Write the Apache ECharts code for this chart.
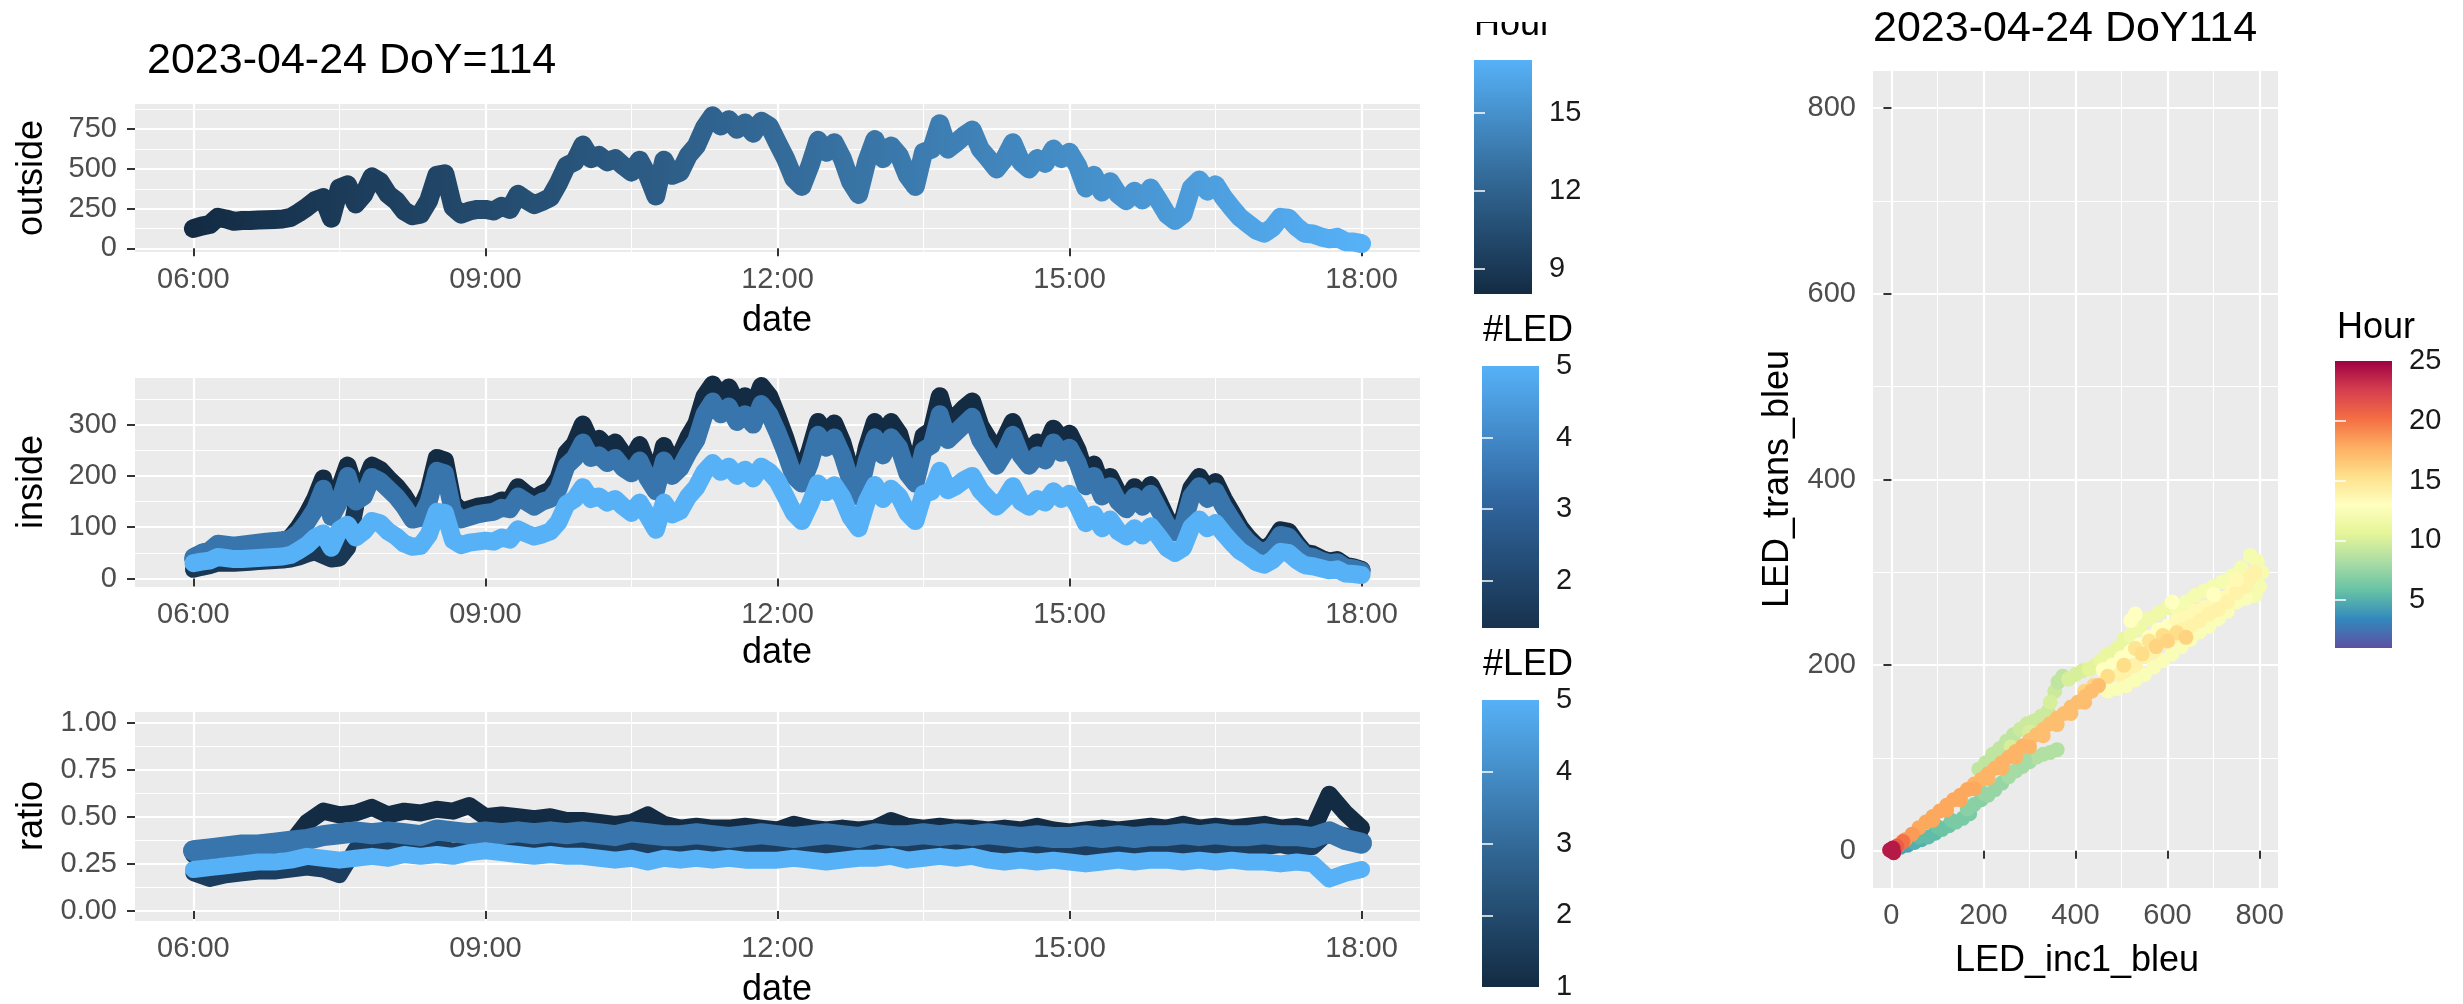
<!DOCTYPE html>
<html><head><meta charset="utf-8">
<script src="https://cdn.jsdelivr.net/npm/echarts@6/dist/echarts.min.js"></script>
<style>html,body{margin:0;padding:0;background:#fff}#c{width:2463px;height:1004px}</style>
</head><body><div id="c"></div>
<script>
// ---------- DATA ----------
// 5-minute samples, 06:00 .. 18:00 (145 values)
const outsideVals = [
 125,140,150,195,185,170,175,175,178,180,182,185,
 195,225,260,300,320,190,380,400,280,340,450,420,
 340,300,235,205,215,300,460,470,260,215,235,245,
 245,235,265,245,340,305,275,295,320,410,520,545,
 650,565,585,545,565,520,480,555,460,330,555,460,
 480,585,645,760,835,770,810,750,790,725,800,770,
 665,565,440,390,520,680,605,665,565,420,340,545,
 685,565,645,585,460,390,605,625,785,625,665,710,
 745,625,565,500,565,665,545,500,565,535,625,565,
 605,520,380,460,355,420,340,300,360,305,380,300,
 215,175,215,380,430,360,400,320,255,195,155,115,
 95,130,195,190,135,95,90,72,60,70,42,40,
 30];
// inside, LED 1 (only 06:00 .. 07:40 visible)
const insideLED1 = [18,22,25,30,30,30,31,32,33,34,35,36, 38,42,48,52,45,38,40,60,140];
const insideLED2 = [
 38,46,52,64,62,60,62,64,66,68,70,72,
 80,100,125,155,195,135,175,220,170,180,220,212,
 195,180,160,135,135,170,235,230,148,130,135,140,
 142,145,152,150,178,165,155,165,172,195,245,262,
 300,265,272,255,265,242,230,260,218,190,258,225,
 240,275,302,355,378,355,372,340,355,332,375,355,
 315,272,222,205,250,305,282,302,265,210,178,255,
 305,268,305,282,228,205,278,288,355,300,315,332,
 345,298,272,245,272,305,265,245,265,255,292,272,
 282,250,200,222,178,198,166,150,178,155,182,150,
 116,100,116,176,198,172,188,155,128,100,80,64,
 56,69,94,91,69,50,47,39,33,36,25,22,
 17];
const insideLED3 = [
 42,50,55,68,66,64,66,68,70,72,73,75,
 78,90,110,135,175,120,150,200,150,160,198,190,
 175,160,140,115,118,150,210,205,130,115,120,125,
 128,130,138,135,160,150,140,150,155,175,220,235,
 265,235,240,225,235,215,205,230,195,170,230,200,
 215,245,270,320,345,320,335,305,320,300,340,320,
 285,245,200,185,225,280,255,275,240,190,160,230,
 275,240,275,255,205,185,250,260,320,270,285,300,
 315,270,245,220,245,280,240,220,240,230,265,245,
 255,225,180,200,160,180,150,135,160,140,165,135,
 105,90,105,160,180,155,170,140,115,90,72,58,
 50,62,85,82,62,45,42,35,30,32,22,20,
 15];
const insideLED5 = [
 30,33,35,42,40,38,38,39,40,41,42,43,
 46,55,65,80,88,60,95,105,80,92,112,108,
 92,82,68,62,64,85,130,128,75,65,70,72,
 74,72,80,76,96,88,82,86,92,110,145,155,
 178,155,160,148,155,140,128,148,122,95,148,125,
 132,160,178,208,225,208,218,200,212,195,218,208,
 190,160,128,112,145,185,168,182,158,120,98,150,
 182,155,175,160,128,112,165,170,210,172,180,192,
 200,172,155,140,155,180,150,140,155,148,170,155,
 165,142,108,125,98,115,92,82,98,84,102,82,
 60,50,60,100,115,98,108,88,70,54,44,32,
 27,36,52,50,36,26,24,20,16,18,10,9,
 7];
// ratio, 10-minute samples 06:00 .. 18:00 (73 values)
const ratioLED1 = [
 0.20,0.17,0.19,0.20,0.21,0.21, 0.22,0.23,0.22,0.19,0.33,0.35,
 0.34,0.35,0.33,0.34,0.32,0.33, 0.32,0.34,0.33,0.35,0.34,0.35,
 0.36,0.34,0.35,0.34,0.33,0.35, 0.34,0.33,0.34,0.33,0.35,0.34,
 0.33,0.34,0.33,0.32,0.34,0.33, 0.34,0.35,0.33,0.34,0.33,0.34,
 0.35,0.33,0.34,0.33,0.34,0.32, 0.33,0.32,0.33,0.34,0.33,0.34,
 0.33,0.34,0.35,0.33,0.34,0.33, 0.34,0.35,0.33,0.34,0.42,0.40,
 0.38];
const ratioLED2 = [
 0.30,0.31,0.31,0.32,0.32,0.33, 0.36,0.47,0.53,0.51,0.52,0.55,
 0.51,0.53,0.52,0.54,0.53,0.56, 0.50,0.51,0.50,0.49,0.50,0.48,
 0.48,0.47,0.46,0.47,0.51,0.46, 0.44,0.45,0.44,0.44,0.45,0.44,
 0.43,0.46,0.44,0.43,0.44,0.43, 0.44,0.48,0.45,0.44,0.45,0.44,
 0.44,0.43,0.44,0.43,0.45,0.43, 0.42,0.43,0.44,0.43,0.44,0.45,
 0.44,0.46,0.44,0.45,0.44,0.45, 0.46,0.44,0.45,0.43,0.62,0.52,
 0.44];
const ratioLED3 = [
 0.32,0.33,0.34,0.35,0.35,0.36, 0.37,0.38,0.40,0.41,0.42,0.41,
 0.42,0.41,0.40,0.43,0.42,0.41, 0.42,0.41,0.42,0.41,0.42,0.41,
 0.42,0.41,0.40,0.42,0.41,0.40, 0.40,0.41,0.40,0.39,0.40,0.41,
 0.40,0.39,0.40,0.41,0.40,0.39, 0.41,0.40,0.40,0.41,0.40,0.41,
 0.40,0.41,0.40,0.39,0.40,0.39, 0.39,0.40,0.39,0.40,0.39,0.40,
 0.40,0.41,0.40,0.41,0.40,0.40, 0.41,0.40,0.40,0.39,0.42,0.38,
 0.36];
const ratioLED5 = [
 0.22,0.23,0.24,0.25,0.26,0.26, 0.27,0.29,0.28,0.27,0.28,0.29,
 0.28,0.30,0.29,0.30,0.29,0.31, 0.32,0.31,0.30,0.29,0.30,0.29,
 0.29,0.28,0.27,0.28,0.26,0.28, 0.27,0.28,0.27,0.28,0.27,0.27,
 0.27,0.28,0.27,0.26,0.27,0.28, 0.28,0.29,0.27,0.28,0.29,0.28,
 0.29,0.27,0.26,0.27,0.26,0.27, 0.26,0.25,0.26,0.27,0.26,0.27,
 0.27,0.26,0.27,0.26,0.27,0.26, 0.26,0.25,0.26,0.25,0.17,0.20,
 0.22];
// scatter points: [LED_inc1_bleu, LED_trans_bleu, Hour], in drawing order
const scatterEarly = [
 [20,4,4.5],[35,6,4.5],[50,9,5],[65,12,5],[80,15,5.5],[95,19,5.5],[110,23,6],[125,27,6],[140,31,6.5],[155,35,6.5],[170,40,6.5],[60,15,5.5],[100,26,6],[130,33,6.5],
 [165,45,7],[180,50,7],[195,55,7],[210,60,7.5],[225,66,7.5],[240,73,7.5],[255,80,8],[270,86,8],[285,91,8],[300,96,8],[315,101,8.5],[330,104,8.5],[345,106,8.5],[360,109,8.5],[200,62,7.5],[250,86,8],[290,98,8]
];
const scatterMorning = [
 [190,88,9],[205,95,9],[220,104,9],[235,110,9],[250,118,9],[265,125,9],[280,131,9.5],[295,137,9.5],[310,140,9.5],[325,145,9.5],[340,150,9.5],[355,172,9.5],[362,182,9],[372,188,9],[385,185,10],[400,190,10],[415,194,10],[430,196,10.5],[445,200,10.5],[345,160,10],[300,128,10],[260,112,10]
];
const scatterMidday = [
 [455,205,11],[470,212,11],[490,218,11],[505,228,11],[520,232,11.5],[540,240,11.5],[560,250,11.5],[580,256,11.5],[600,262,11.5],[620,262,12],[640,268,12],[660,275,12],[680,280,12],[700,285,12],[720,290,12],[740,296,12],[760,305,12],[780,318,12],[795,312,12],[805,300,12],[800,285,12],[790,275,12],[770,272,12.5],[750,268,12.5],[730,258,12.5],[710,250,12.5],[690,242,12.5],[670,236,12.5],[650,228,12.5],[630,220,12.5],[610,212,12.5],[590,205,12.5],[570,198,12.5],[550,190,12.5],[530,184,12.5],[510,178,12.5],[490,175,12.5],[470,172,12.5],
 [460,195,13],[480,200,13],[500,208,13],[520,215,13],[540,222,13],[560,230,13],[580,238,13],[600,242,13],[620,248,13.5],[640,252,13.5],[660,258,13.5],[680,262,13.5],[700,268,13.5],[720,272,13.5],[740,280,13.5],[760,285,14],[780,295,14],[790,300,14],[770,285,14],[750,278,14],[730,268,14],[710,260,14],[690,255,14],[670,248,14],[650,242,14],[630,238,14],[610,230,14],[590,225,14],[570,215,14],[550,210,14],[530,200,14],[510,195,14],[495,190,14],[520,248,13],[530,255,13],[610,268,13],[700,276,13],[750,292,13.5]
];
const scatterAfternoon = [
 [530,218,15],[560,226,15],[590,232,15.5],[620,235,15.5],[640,230,16],[575,220,16],[545,212,15.5],[505,200,15.5],[470,188,15.5],[440,178,16],[420,172,16],[600,226,16],
 [450,178,17],[435,172,17],[420,166,17],[405,160,17],[390,155,17],[375,148,17],[360,143,17],[345,137,17],[330,131,17],[315,125,17],[300,119,17],[285,113,17.5],[270,107,17.5],[255,101,17.5],[240,95,17.5],[225,89,17.5],[210,83,17.5],[195,77,17.5],[180,72,17.5],[165,66,18],[150,60,18],[135,55,18],[120,49,18],[105,43,18],[90,37,18],[75,31,18],[60,25,18],[45,18,18.5],[30,12,18.5],[15,6,19],
 [360,136,17],[330,124,17],[300,112,17.5],[270,101,17.5],[240,89,17.5],[210,78,17.5],[180,67,18],[150,55,18],[120,44,18],[90,33,18],[390,148,17],[420,160,17]
];
const scatterNight = [[25,10,20],[12,5,21],[6,2,22],[0,0,23.5],[5,-2,24],[-4,1,24],[3,3,24]];

// ticks / labels
const timeTicks = [6, 9, 12, 15, 18];
const timeMinor = [7.5, 10.5, 13.5, 16.5];
const outsideTicks = [0, 250, 500, 750];
const outsideMinor = [125, 375, 625, 875];
const insideTicks = [0, 100, 200, 300];
const insideMinor = [50, 150, 250, 350];
const ratioTicks = [0, 0.25, 0.5, 0.75, 1];
const ratioMinor = [0.125, 0.375, 0.625, 0.875];
const scatTicks = [0, 200, 400, 600, 800];
const scatMinor = [100, 300, 500, 700];

// ---------- BUILD ----------
const FONT = 'Liberation Sans';
const t5 = outsideVals.map((_, i) => 6 + i / 12);
const t10 = ratioLED1.map((_, i) => 6 + i / 6);
const pairs = (ts, vs) => vs.map((v, i) => [ts[i], v]);

const grids = [], xAxes = [], yAxes = [];
const fmtTime = v => (v < 10 ? '0' : '') + v + ':00';
function major(dim, gi, r) {
  return {
    type: 'value', gridIndex: gi, min: r.min, max: r.max,
    position: dim === 'x' ? 'bottom' : 'left',
    axisLine: { show: false },
    axisTick: { show: true, length: 8, lineStyle: { color: '#333333', width: 2 }, customValues: r.major },
    axisLabel: { show: true, customValues: r.major, formatter: r.fmt, fontSize: 29, color: '#4D4D4D',
      fontFamily: FONT, margin: dim === 'x' ? 13 : r.lm },
    splitLine: { show: true, lineStyle: { color: '#FFFFFF', width: 2.2 } }
  };
}
function minor(dim, gi, r) {
  return {
    type: 'value', gridIndex: gi, min: r.min, max: r.max,
    position: dim === 'x' ? 'bottom' : 'left',
    axisLine: { show: false },
    axisTick: { show: false, customValues: r.minor },
    axisLabel: { show: false, customValues: r.minor },
    splitLine: { show: true, lineStyle: { color: '#FFFFFF', width: 1.1 } }
  };
}
function addPanel(box, xr, yr) {
  const gi = grids.length;
  grids.push(Object.assign({ show: true, backgroundColor: '#EBEBEB', borderWidth: 0 }, box));
  const xi = xAxes.length, yi = yAxes.length;
  xAxes.push(major('x', gi, xr)); xAxes.push(minor('x', gi, xr));
  yAxes.push(major('y', gi, yr)); yAxes.push(minor('y', gi, yr));
  return { xi, yi };
}
const timeRange = { min: 5.4, max: 18.6, major: timeTicks, minor: timeMinor, fmt: fmtTime };
const p1 = addPanel({ left: 135, top: 104, width: 1285, height: 148 }, timeRange,
  { min: -23, max: 909, major: outsideTicks, minor: outsideMinor, fmt: v => String(v), lm: 18 });
const p2 = addPanel({ left: 135, top: 378, width: 1285, height: 209 }, timeRange,
  { min: -16.4, max: 390.7, major: insideTicks, minor: insideMinor, fmt: v => String(v), lm: 18 });
const p3 = addPanel({ left: 135, top: 712, width: 1285, height: 209 }, timeRange,
  { min: -0.053, max: 1.056, major: ratioTicks, minor: ratioMinor, fmt: v => v.toFixed(2), lm: 18 });
const p4 = addPanel({ left: 1873, top: 71, width: 405, height: 817 },
  { min: -40, max: 840, major: scatTicks, minor: scatMinor, fmt: v => String(v) },
  { min: -40, max: 840, major: scatTicks, minor: scatMinor, fmt: v => String(v), lm: 17 });

// colour bars
function grad(stops) {
  return { type: 'linear', x: 0, y: 0, x2: 0, y2: 1,
    colorStops: stops.map((c, i) => ({ offset: i / (stops.length - 1), color: c })) };
}
function addBar(box, min, max, ticks, labels, colorsTopDown) {
  const gi = grids.length;
  grids.push(Object.assign({ show: true, backgroundColor: grad(colorsTopDown), borderWidth: 0 }, box));
  xAxes.push({ type: 'value', gridIndex: gi, show: false, min: 0, max: 1 });
  yAxes.push({ type: 'value', gridIndex: gi, min, max, position: 'right',
    axisLine: { show: false },
    axisTick: { show: true, inside: true, length: 11, lineStyle: { color: '#FFFFFF', width: 1.5 }, customValues: ticks },
    axisLabel: { show: true, customValues: labels, fontSize: 29, color: '#1A1A1A', fontFamily: FONT, margin: 17 },
    splitLine: { show: false } });
  yAxes.push({ type: 'value', gridIndex: gi, min, max, position: 'left',
    axisLine: { show: false },
    axisTick: { show: true, inside: true, length: 11, lineStyle: { color: '#FFFFFF', width: 1.5 }, customValues: ticks },
    axisLabel: { show: false }, splitLine: { show: false } });
}
const blueStops = ['#56B1F7', '#336A98', '#132B43'];
addBar({ left: 1474, top: 60, width: 58, height: 234 }, 8.04, 17.04, [9, 12, 15], [9, 12, 15], blueStops);
addBar({ left: 1482, top: 366, width: 57, height: 262 }, 1.34, 5, [2, 3, 4], [2, 3, 4, 5], ['#56B1F7', '#3167A0', '#17324D']);
addBar({ left: 1482, top: 700, width: 57, height: 287 }, 1, 5, [2, 3, 4], [1, 2, 3, 4, 5], blueStops);
const spectral = ['#5E4FA2','#3288BD','#66C2A5','#ABDDA4','#E6F598','#FFFFBF','#FEE08B','#FDAE61','#F46D43','#D53E4F','#9E0142'];
addBar({ left: 2335, top: 361, width: 57, height: 287 }, 1, 25, [5, 10, 15, 20], [5, 10, 15, 20, 25], spectral.slice().reverse());

function lineSeries(p, data, color, w) {
  const s = { type: 'line', xAxisIndex: p.xi, yAxisIndex: p.yi, data, showSymbol: false, symbol: 'none',
    lineStyle: { width: w, cap: 'round', join: 'round' }, animation: false, silent: true };
  if (color) { s.lineStyle.color = color; s.itemStyle = { color }; }
  return s;
}
const scatterAll = scatterEarly.concat(scatterMorning, scatterMidday, scatterAfternoon, scatterNight);
const series = [
  lineSeries(p1, pairs(t5, outsideVals), null, 19),
  lineSeries(p2, pairs(t5, insideLED1), '#1A3754', 17),
  lineSeries(p2, pairs(t5, insideLED2), '#132B43', 18),
  lineSeries(p2, pairs(t5, insideLED3), '#3775AC', 18),
  lineSeries(p2, pairs(t5, insideLED5), '#56B1F7', 18),
  lineSeries(p3, pairs(t10, ratioLED1), '#1D3D5E', 16),
  lineSeries(p3, pairs(t10, ratioLED2), '#132B43', 17),
  lineSeries(p3, pairs(t10, ratioLED3), '#3775AC', 21),
  lineSeries(p3, pairs(t10, ratioLED5), '#56B1F7', 17),
  { type: 'scatter', xAxisIndex: p4.xi, yAxisIndex: p4.yi, symbolSize: 15, animation: false, silent: true,
    itemStyle: { opacity: 1 }, data: scatterAll }
];

function txt(text, x, y, size, opts) {
  return Object.assign({ type: 'text', x, y, z: 100, silent: true,
    style: Object.assign({ text, fontSize: size, fontFamily: FONT, fill: '#000000', align: 'left', verticalAlign: 'middle' }, (opts && opts.style) || {}) },
    opts && opts.rotation !== undefined ? { rotation: opts.rotation } : {});
}
const graphic = [
  txt('2023-04-24 DoY=114', 147, 61, 43),
  txt('outside', 32, 178, 36, { rotation: Math.PI / 2, style: { align: 'center' } }),
  txt('inside', 32, 482, 36, { rotation: Math.PI / 2, style: { align: 'center' } }),
  txt('ratio', 32, 816, 36, { rotation: Math.PI / 2, style: { align: 'center' } }),
  txt('date', 777, 321, 36, { style: { align: 'center' } }),
  txt('date', 777, 653, 36, { style: { align: 'center' } }),
  txt('date', 777, 990, 36, { style: { align: 'center' } }),
  txt('Hour', 1474, 25, 36),
  { type: 'rect', shape: { x: 1440, y: 0, width: 220, height: 22 }, style: { fill: '#FFFFFF' }, z: 200, silent: true },
  txt('#LED', 1483, 331, 36),
  txt('#LED', 1483, 665, 36),
  txt('2023-04-24 DoY114', 1873, 29, 43),
  txt('LED_inc1_bleu', 2077, 961, 36, { style: { align: 'center' } }),
  txt('LED_trans_bleu', 1778, 479, 36, { rotation: Math.PI / 2, style: { align: 'center' } }),
  txt('Hour', 2337, 328, 36)
];

const chart = echarts.init(document.getElementById('c'), null, { renderer: 'canvas' });
chart.setOption({
  backgroundColor: '#FFFFFF',
  animation: false,
  grid: grids,
  xAxis: xAxes,
  yAxis: yAxes,
  visualMap: [
    { type: 'continuous', show: false, seriesIndex: 0, dimension: 0, min: 6, max: 18,
      inRange: { color: ['#132B43', '#336A98', '#56B1F7'] } },
    { type: 'continuous', show: false, seriesIndex: 9, dimension: 2, min: 1, max: 25,
      inRange: { color: spectral } }
  ],
  series,
  graphic
});
</script></body></html>
